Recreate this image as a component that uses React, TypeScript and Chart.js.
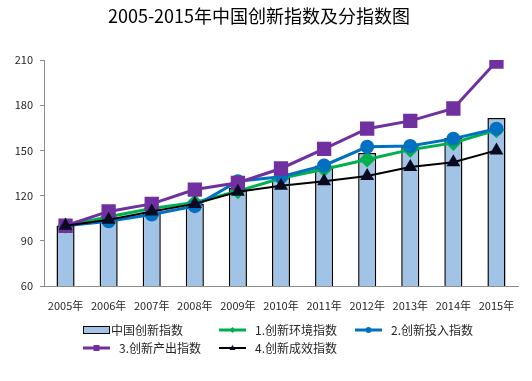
import React, { useEffect, useRef } from "react";
import { Chart, registerables } from "chart.js";

Chart.register(...registerables);

const categories = ["2005年", "2006年", "2007年", "2008年", "2009年", "2010年", "2011年", "2012年", "2013年", "2014年", "2015年"];
const innovationIndex = [100, 103.9, 109.3, 114.4, 125.1, 131.9, 139.9, 148.2, 152.7, 158.2, 171.5];
const environmentIndex = [100, 106, 111.5, 115.5, 123, 131.5, 137.5, 144, 150.5, 155, 163.5];
const inputIndex = [100, 103, 107.5, 113, 129.5, 132.5, 140, 152.4, 152.9, 157.8, 164.4];
const outputIndex = [100, 109.5, 114.5, 124, 128.5, 138, 151, 164.4, 169.6, 177.8, 209];
const effectIndex = [100, 104, 109.5, 114.5, 122.5, 126.5, 129.5, 133, 139, 142.2, 150];
const seriesLabels = ["中国创新指数", "1.创新环境指数", "2.创新投入指数", "3.创新产出指数", "4.创新成效指数"];
const yTicks = [60, 90, 120, 150, 180, 210];
const titleText = "2005-2015年中国创新指数及分指数图";

const FONT = "'Noto Sans CJK SC', 'Noto Sans', sans-serif";

function drawMarker(ctx: CanvasRenderingContext2D, style: string, x: number, y: number, r: number, color: string) {
  ctx.save();
  ctx.fillStyle = color;
  ctx.beginPath();
  if (style === "rect") {
    ctx.rect(x - r, y - r, 2 * r, 2 * r);
  } else if (style === "rectRot") {
    ctx.moveTo(x, y - r);
    ctx.lineTo(x + r, y);
    ctx.lineTo(x, y + r);
    ctx.lineTo(x - r, y);
    ctx.closePath();
  } else if (style === "triangle") {
    ctx.moveTo(x, y - r);
    ctx.lineTo(x + r, y + r * 0.7);
    ctx.lineTo(x - r, y + r * 0.7);
    ctx.closePath();
  } else {
    ctx.arc(x, y, r, 0, Math.PI * 2);
  }
  ctx.fill();
  ctx.restore();
}

const gridLegendPlugin = {
  id: "gridLegend",
  afterDraw(chart: any) {
    const ctx: CanvasRenderingContext2D = chart.ctx;
    const cols = [83, 219, 355];
    const rows = [330, 348];
    ctx.save();
    ctx.font = "12px " + FONT;
    ctx.textBaseline = "middle";
    ctx.fillStyle = "#262626";
    chart.data.datasets.forEach((ds: any, i: number) => {
      const x = cols[i % 3];
      const y = rows[Math.floor(i / 3)];
      if (ds.type === "bar") {
        ctx.fillStyle = ds.backgroundColor;
        ctx.fillRect(x, y - 4, 27, 8);
        ctx.strokeStyle = "#000";
        ctx.lineWidth = 1;
        ctx.strokeRect(x + 0.5, y - 3.5, 26, 7);
        ctx.fillStyle = "#262626";
        ctx.fillText(ds.label, x + 28, y);
      } else {
        ctx.strokeStyle = ds.borderColor;
        ctx.lineWidth = ds.borderWidth;
        ctx.beginPath();
        ctx.moveTo(x, y);
        ctx.lineTo(x + 27, y);
        ctx.stroke();
        drawMarker(ctx, ds.pointStyle, x + 13.5, y, 3, ds.pointBackgroundColor);
        ctx.fillStyle = "#262626";
        ctx.fillText(ds.label, x + 36, y);
      }
    });
    ctx.restore();
  },
};

export default function App() {
  const canvasRef = useRef<HTMLCanvasElement | null>(null);

  useEffect(() => {
    document.body.style.margin = "0";
    const canvas = canvasRef.current;
    if (!canvas) return;
    const chart = new Chart(canvas, {
      type: "bar",
      data: {
        labels: categories,
        datasets: [
          {
            type: "bar",
            label: seriesLabels[0],
            data: innovationIndex,
            backgroundColor: "#A0C3E6",
            borderColor: "#000000",
            borderWidth: 1.5,
            categoryPercentage: 1,
            barPercentage: 0.42,
            order: 5,
          } as any,
          {
            type: "line",
            label: seriesLabels[1],
            data: environmentIndex,
            borderColor: "#00B050",
            backgroundColor: "#00B050",
            pointBackgroundColor: "#00B050",
            pointBorderColor: "#00B050",
            borderWidth: 3,
            pointStyle: "rectRot",
            pointRadius: 6,
            order: 4,
          },
          {
            type: "line",
            label: seriesLabels[2],
            data: inputIndex,
            borderColor: "#0070C0",
            backgroundColor: "#0070C0",
            pointBackgroundColor: "#0070C0",
            pointBorderColor: "#0070C0",
            borderWidth: 3,
            pointStyle: "circle",
            pointRadius: 5.5,
            order: 3,
          },
          {
            type: "line",
            label: seriesLabels[3],
            data: outputIndex,
            borderColor: "#7030A0",
            backgroundColor: "#7030A0",
            pointBackgroundColor: "#7030A0",
            pointBorderColor: "#7030A0",
            borderWidth: 3,
            pointStyle: "rect",
            pointRadius: 8,
            order: 2,
          },
          {
            type: "line",
            label: seriesLabels[4],
            data: effectIndex,
            borderColor: "#000000",
            backgroundColor: "#000000",
            pointBackgroundColor: "#0A0A20",
            pointBorderColor: "#0A0A20",
            borderWidth: 2,
            pointStyle: "triangle",
            pointRadius: 6,
            order: 1,
          },
        ],
      },
      options: {
        responsive: false,
        animation: false,
        layout: { padding: { left: 0, right: 14, top: 0, bottom: 68 } },
        plugins: {
          legend: { display: false },
          tooltip: { enabled: false },
          title: {
            display: true,
            text: titleText,
            color: "#000000",
            font: { family: FONT, size: 18, weight: "normal" },
            padding: { top: 5, bottom: 33.4 },
          },
        },
        scales: {
          x: {
            offset: true,
            grid: { display: false, drawTicks: false },
            border: { display: true, color: "#8C8C8C", width: 1 },
            ticks: { color: "#262626", font: { family: FONT, size: 11 }, padding: 13, maxRotation: 0, autoSkip: false },
            afterFit: (s: any) => { s.height = 27; },
          },
          y: {
            min: 60,
            max: 210,
            afterBuildTicks: (s: any) => { s.ticks = yTicks.map((v) => ({ value: v })); },
            grid: { display: true, drawOnChartArea: false, drawTicks: true, tickLength: 4, color: "#8C8C8C" },
            border: { display: true, color: "#8C8C8C", width: 1 },
            ticks: { color: "#262626", font: { family: FONT, size: 11 }, padding: 7 },
            afterFit: (s: any) => { s.width = 44; },
          },
        },
      },
      plugins: [gridLegendPlugin],
    });
    return () => chart.destroy();
  }, []);

  return (
    <div style={{ width: 532, height: 381, background: "#ffffff" }}>
      <canvas ref={canvasRef} width={532} height={381} />
    </div>
  );
}
